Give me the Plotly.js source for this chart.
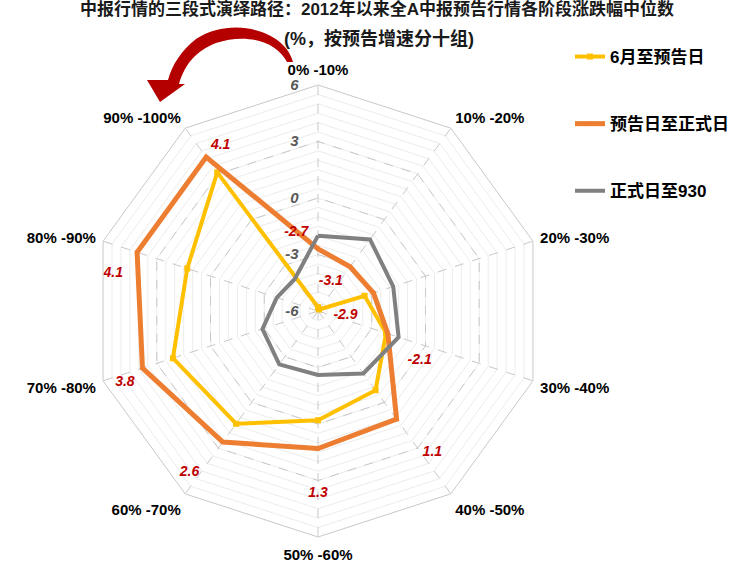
<!DOCTYPE html>
<html>
<head>
<meta charset="utf-8">
<script src="https://cdn.plot.ly/plotly-3.0.1.min.js"></script>
<style>html,body{margin:0;padding:0;background:#fff;}#chart{width:748px;height:567px;}</style>
</head>
<body>
<div id="chart"></div>
<script>
// ---- data ----
var categories = ["0% -10%", "10% -20%", "20% -30%", "30% -40%", "40% -50%",
                  "50% -60%", "60% -70%", "70% -80%", "80% -90%", "90% -100%"];
var seriesNames = ["6月至预告日", "预告日至正式日", "正式日至930"];
var juneToForecast = [-5.8, -5.9, -3.4, -2.2, -0.8, -0.2, 1.4, 2.1, 1.3, 3.1];
var forecastToFormal = [-2.7, -3.1, -2.9, -2.1, 1.1, 1.3, 2.6, 3.8, 4.1, 4.1];
var formalTo930 = [-2.0, -1.3, -1.8, -1.5, -1.9, -2.6, -2.5, -2.9, -3.7, -3.9];
var radialTicks = [-6, -3, 0, 3, 6];
var labelTexts = ["-2.7", "-3.1", "-2.9", "-2.1", "1.1", "1.3", "2.6", "3.8", "4.1", "4.1"];

// ---- label styling (placement only) ----
var labelPositions = ["top left", "bottom left", "bottom left", "bottom right", "bottom right",
                      "bottom center", "bottom left", "bottom left", "bottom left", "top right"];
var labelGaps = [14, 10, 24, 30, 40, 60, 36, 11, 21, 6];

function closeLoop(a) { return a.concat([a[0]]); }

var W = 748, H = 567;
var FONT = "Liberation Sans, Arial, Noto Sans CJK SC, sans-serif";
var NB = "\u00A0\u00A0\u00A0\u00A0";

var traces = [
  { // helper to render the minor-grid subplot
    type: "scatterpolar", subplot: "polar", r: [null], theta: [categories[0]],
    mode: "markers", showlegend: false, hoverinfo: "skip", cliponaxis: true
  },
  {
    type: "scatterpolar", subplot: "polar2", name: seriesNames[0], legendgroup: "a",
    r: closeLoop(juneToForecast), theta: closeLoop(categories),
    mode: "lines+markers", cliponaxis: true,
    line: {color: "#FFC000", width: 4},
    marker: {symbol: "square", size: 6, color: "#FFC000"}
  },
  {
    type: "scatterpolar", subplot: "polar2", name: seriesNames[1], legendgroup: "b",
    r: closeLoop(forecastToFormal), theta: closeLoop(categories),
    mode: "lines+markers", cliponaxis: true,
    line: {color: "#ED7D31", width: 5},
    marker: {symbol: "square", size: 4, color: "#ED7D31"}
  },
  {
    type: "scatterpolar", subplot: "polar2", name: seriesNames[2], legendgroup: "c",
    r: closeLoop(formalTo930), theta: closeLoop(categories),
    mode: "lines", cliponaxis: true,
    line: {color: "#808080", width: 4}
  },
  {
    type: "scatterpolar", subplot: "polar2", showlegend: false, hoverinfo: "skip",
    r: forecastToFormal, theta: categories, mode: "markers+text", cliponaxis: true,
    marker: {size: labelGaps, opacity: 0, color: "#ffffff"},
    text: labelTexts,
    textposition: labelPositions,
    textfont: {family: FONT, size: 14, color: "#C00000", weight: "bold", style: "italic"}
  }
];

var polarDomain = {x: [92 / W, 544 / W], y: [1 - 537 / H, 1 - 85 / H]};

var angularBase = {
  type: "category", categoryorder: "array", categoryarray: categories,
  rotation: 90, direction: "clockwise"
};

function px(path) {
  return path.replace(/(-?\d+(?:\.\d+)?),(-?\d+(?:\.\d+)?)/g, function (m, x, y) {
    return (parseFloat(x) / W).toFixed(5) + "," + (1 - parseFloat(y) / H).toFixed(5);
  });
}

var arrowPath = px("M 293,62 C 285,30 232,16 196,39 C 181,51 172,65 168,80 L 147,80 L 160,102 L 185,84 L 179,84 C 185,64 196,51 216,43 C 246,33 276,41 287,62 Z");

var layout = {
  width: W, height: H,
  margin: {l: 0, r: 0, t: 0, b: 0},
  paper_bgcolor: "#ffffff",
  font: {family: FONT, color: "#000000"},
  title: {
    text: "中报行情的三段式演绎路径：2012年以来全A中报预告行情各阶段涨跌幅中位数",
    font: {family: FONT, size: 17, weight: "bold", color: "#1a1a1a"},
    x: 377 / W, xanchor: "center", y: 1 - 9 / H, yanchor: "middle",
    xref: "paper", yref: "container"
  },
  annotations: [{
    text: "(%，按预告增速分十组)", showarrow: false,
    xref: "paper", yref: "paper", x: 379 / W, y: 1 - 38 / H,
    xanchor: "center", yanchor: "middle",
    font: {family: FONT, size: 18, weight: "bold", color: "#1a1a1a"}
  }],
  shapes: [{
    type: "path", path: arrowPath, xref: "paper", yref: "paper",
    fillcolor: "#B50000", line: {width: 0}
  }],
  showlegend: true,
  legend: {
    x: 570 / W, y: 1 - 39 / H, xanchor: "left", yanchor: "top",
    font: {family: FONT, size: 17, weight: "bold", color: "#000"},
    tracegroupgap: 42, itemwidth: 30, bgcolor: "rgba(0,0,0,0)"
  },
  polar: {
    domain: polarDomain, gridshape: "linear", bgcolor: "rgba(0,0,0,0)",
    radialaxis: {
      range: [-6, 6], dtick: 0.5, tick0: 0, showgrid: true, gridcolor: "#ECECEC", gridwidth: 1,
      showticklabels: false, ticks: "", showline: false, angle: 90
    },
    angularaxis: Object.assign({}, angularBase, {
      showgrid: false, showticklabels: false, ticks: "", showline: false
    })
  },
  polar2: {
    domain: polarDomain, gridshape: "linear", bgcolor: "rgba(0,0,0,0)",
    radialaxis: {
      range: [-6, 6], tickvals: radialTicks,
      ticktext: radialTicks.map(function (t) { return String(t) + NB; }),
      showgrid: true, gridcolor: "#C8C8C8", griddash: "dash", gridwidth: 1,
      showline: false, ticks: "", angle: 90, side: "counterclockwise", tickangle: 90,
      tickfont: {family: FONT, size: 15, color: "#595959", weight: "bold", style: "italic"}
    },
    angularaxis: Object.assign({}, angularBase, {
      showgrid: true, gridcolor: "#C8C8C8", griddash: "dash", gridwidth: 1,
      showline: true, linecolor: "#C8C8C8",
      ticks: "outside", ticklen: 4, tickcolor: "rgba(0,0,0,0)",
      tickfont: {family: FONT, size: 15, weight: "bold", color: "#000"}
    })
  }
};

Plotly.newPlot("chart", traces, layout, {displayModeBar: false, responsive: false});
</script>
</body>
</html>
